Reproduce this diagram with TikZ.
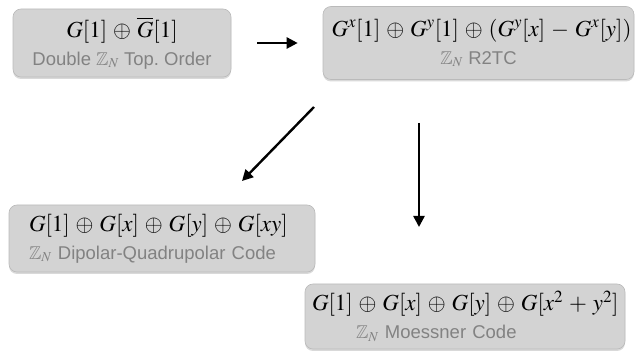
\documentclass[tikz,border=0pt]{standalone}
\usepackage{amssymb}
\usepackage{mathptmx}
\usepackage[no-math]{fontspec}
\setmainfont{Liberation Sans}
\usepackage{tikz}
\usepackage{xcolor}
\usetikzlibrary{
    arrows.meta,
    shadows,
    positioning
}
\frenchspacing

\definecolor{boxfill}{RGB}{211,211,211}
\definecolor{boxline}{RGB}{186,186,186}
\definecolor{labelgray}{RGB}{130,130,130}

\tikzset{
    codebox/.style={draw=boxline, fill=boxfill, rounded corners=8pt, line width=0.6pt,
        drop shadow={shadow xshift=0pt, shadow yshift=-2pt, opacity=0.25, fill=black!60},
        inner ysep=0pt, font=\fontsize{18.5}{28}\selectfont}
}
\newcommand{\codemath}[1]{{\fontsize{23}{28}\selectfont\mbox{\medmuskip=4.6mu$#1$}}}
\newcommand{\codename}[1]{\textcolor{labelgray}{#1}}

\begin{document}
\begin{tikzpicture}[x=1pt, y=-1pt, >={Triangle[length=11pt, width=11pt]}]
                    \useasboundingbox (0,0) rectangle (641,352);

                    \node[codebox, minimum width=218pt, inner xsep=4pt, minimum height=68pt, align=center] (dbl) at (122,43)
                        {\codemath{G[1] \oplus \overline{G}[1]}\\ \codename{Double $\mathbb{Z}_N$ Top. Order}};
                    \node[codebox, minimum width=311pt, inner xsep=2pt, minimum height=73pt, align=center] (rtc) at (478.5,43)
                        {\hspace*{6pt}\codemath{G^x[1] \oplus G^y[1] \oplus (G^y[x] - G^x[y])}\\ \codename{$\mathbb{Z}_N$ R2TC}};
                    \node[codebox, text width=266pt, inner xsep=20pt, minimum height=67pt, align=left] (dqc) at (162,238.5)
                        {\codemath{G[1] \oplus G[x] \oplus G[y] \oplus G[xy]}\\ \codename{$\mathbb{Z}_N$ Dipolar-Quadrupolar Code}};
                    \node[codebox, text width=306pt, inner xsep=7pt, minimum height=65pt, align=left] (moe) at (465,316.5)
                        {\codemath{G[1] \oplus G[x] \oplus G[y] \oplus G[x^2 + y^2]}\\ \hspace*{44pt}\codename{$\mathbb{Z}_N$ Moessner Code}};

                    \coordinate (d1) at (314,107);
                    \coordinate (d2) at (242,181);
                    \coordinate (v1) at (419,123);
                    \coordinate (v2) at (419,227);

                    \draw[line width=2.4pt]
                    (dbl) edge[->, shorten <=26pt, shorten >=25pt] (rtc)
                    (d1) edge[->] (d2)
                    (v1) edge[->] (v2);
                \end{tikzpicture}
\end{document}
